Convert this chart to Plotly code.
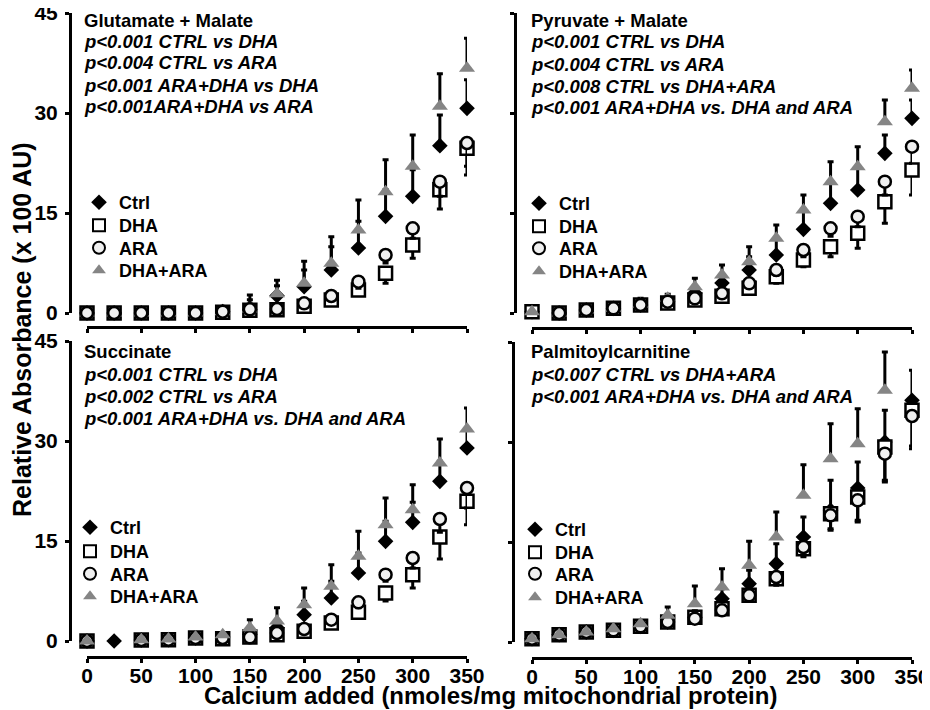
import plotly.graph_objects as go

# The page body adds an 8px margin, so the figure is drawn 8px smaller and
# reference pixel positions are shifted by that offset.
OFF = 8
W, H = 930 - OFF, 710 - OFF

# ---------------- data ----------------
calcium = [0, 25, 50, 75, 100, 125, 150, 175, 200, 225, 250, 275, 300, 325, 350]
x_ticks = [0, 50, 100, 150, 200, 250, 300, 350]
y_ticks = [0, 15, 30, 45]
groups = ["Ctrl", "DHA", "ARA", "DHA+ARA"]

# Glutamate + Malate
gm_ctrl = [0, 0, 0, 0, 0, 0.2, 0.5, 2.6, 3.95, 6.45, 9.75, 14.5, 17.5, 25.1, 30.7]
gm_ctrl_err = [0, 0, 0, 0, 0, 0.3, 1.5, 1.5, 2.5, 3.5, 4, 4, 4, 4.6, 4.3]
gm_dha = [0, 0, 0, 0, 0, 0.1, 0.4, 0.5, 1.0, 1.95, 3.45, 5.95, 10.2, 18.5, 24.7]
gm_dha_err = [0, 0, 0, 0, 0, 0, 0.3, 0.3, 0.5, 0.6, 0.8, 1.5, 2, 2.9, 4]
gm_ara = [0, 0, 0, 0, 0, 0.2, 0.55, 0.6, 1.45, 2.55, 4.7, 8.7, 12.7, 19.7, 25.5]
gm_ara_err = [0, 0, 0, 0, 0, 0, 0.3, 0.3, 0.5, 0.6, 1, 1.2, 1.5, 2.2, 3.5]
gm_mix = [0, 0, 0, 0, 0, 0.2, 0.6, 2.9, 4.45, 7.45, 12.45, 18.2, 22, 31, 36.7]
gm_mix_err = [0, 0, 0, 0, 0, 0.3, 2.1, 2, 3.3, 4, 4.5, 4.8, 4.7, 4.9, 4.5]

# Pyruvate + Malate
pm_ctrl = [0.2, 0, 0.45, 0.7, 1.2, 1.7, 3.0, 4.5, 6.45, 8.7, 12.55, 16.45, 18.45, 23.95, 29.2]
pm_ctrl_err = [0, 0, 0, 0, 0, 0.3, 0.5, 1, 2, 2.5, 3, 3, 3.5, 2.75, 2.75]
pm_dha = [0.2, 0, 0.45, 0.7, 1.2, 1.5, 1.95, 2.5, 3.7, 5.45, 7.95, 9.95, 11.95, 16.7, 21.45]
pm_dha_err = [0, 0, 0, 0, 0, 0.2, 0.3, 0.5, 0.8, 1, 1, 1.5, 2.25, 3.25, 3.75]
pm_ara = [None, 0, 0.45, 0.7, 1.2, 1.7, 2.2, 2.95, 4.45, 6.45, 9.45, 12.7, 14.45, 19.7, 24.95]
pm_ara_err = [0, 0, 0, 0, 0, 0.2, 0.3, 0.4, 0.5, 0.8, 1, 1.2, 1.5, 2, 2.5]
pm_mix = [0.2, 0, 0.45, 0.7, 1.3, 2.2, 3.95, 5.7, 7.7, 11.2, 15.45, 19.7, 21.95, 28.7, 33.7]
pm_mix_err = [0, 0, 0, 0, 0.9, 0.6, 1.25, 1.5, 2.25, 2, 2.25, 3, 3, 3.25, 2.75]

# Succinate
su_ctrl = [0, 0, 0.15, 0.2, 0.45, 0.6, 1.0, 2.0, 3.95, 6.45, 10.2, 14.95, 17.8, 23.95, 28.95]
su_ctrl_err = [0, 0, 0, 0, 0, 0.3, 0.5, 1, 2, 2.5, 3, 3, 3, 3, 3]
su_dha = [0, None, 0.15, 0.2, 0.45, 0.35, 0.6, 0.95, 1.45, 2.7, 4.3, 7.2, 9.95, 15.6, 20.95]
su_dha_err = [0, 0, 0, 0, 0, 0, 0.2, 0.3, 0.5, 0.5, 0.8, 1.2, 2, 3.3, 3.5]
su_ara = [0, None, 0.15, 0.2, 0.45, 0.45, 0.55, 1.2, 1.8, 3.2, 5.8, 9.95, 12.45, 18.3, 22.95]
su_ara_err = [0, 0, 0, 0, 0, 0, 0.2, 0.3, 0.4, 0.5, 0.8, 1, 1.5, 2, 3]
su_mix = [0, None, 0.2, 0.3, 0.6, 0.95, 2.0, 3.0, 5.45, 8.2, 12.7, 17.45, 19.7, 26.7, 31.8]
su_mix_err = [0, 0, 0, 0, 0, 0.3, 1.2, 2, 2.5, 3.25, 3.75, 4, 3.75, 3.6, 3.15]

# Palmitoylcarnitine
pc_ctrl = [0.5, 1.1, 1.5, 1.75, 2.35, 3.0, 3.7, 6.5, 8.75, 11.75, 15.75, 19.75, 23.1, 30.0, 36.25]
pc_ctrl_err = [0, 0, 0, 0, 0.2, 0.5, 1, 1.5, 2, 3, 3, 4.5, 3.9, 4.75, 4.5]
pc_dha = [0.5, 1.1, 1.5, 1.75, 2.35, 3.0, 3.7, 5.0, 7.0, 9.5, 14.0, 19.25, 21.75, 29.25, 34.75]
pc_dha_err = [0, 0, 0, 0, 0, 0.3, 0.5, 0.5, 0.8, 1, 1.2, 2.5, 3.75, 5.25, 5.75]
pc_ara = [0.5, 1.1, 1.5, 1.75, 2.35, 3.0, 3.5, 4.75, 7.0, 9.75, 14.25, 19.0, 21.25, 28.25, 33.9]
pc_ara_err = [0, 0, 0, 0, 0, 0.2, 0.4, 0.5, 0.8, 1, 1.2, 2, 3, 4, 4.5]
pc_mix = [0.5, 1.1, 1.5, 2.0, 2.75, 4.0, 5.75, 8.25, 11.5, 15.75, 22.0, 27.5, 29.75, 37.75, None]
pc_mix_err = [0, 0, 0, 0, 0.3, 1.25, 2.65, 2.75, 3.6, 3.75, 4.6, 5.25, 5.25, 5.75, 0]

panel_titles = ["Glutamate + Malate", "Pyruvate + Malate", "Succinate", "Palmitoylcarnitine"]
panel_stats = [
    ["p<0.001 CTRL vs DHA", "p<0.004 CTRL vs ARA", "p<0.001 ARA+DHA vs DHA", "p<0.001ARA+DHA vs ARA"],
    ["p<0.001 CTRL vs DHA", "p<0.004 CTRL vs ARA", "p<0.008 CTRL vs DHA+ARA",
     "p<0.001 ARA+DHA vs. DHA and ARA"],
    ["p<0.001 CTRL vs DHA", "p<0.002 CTRL vs ARA", "p<0.001 ARA+DHA vs. DHA and ARA"],
    ["p<0.007 CTRL vs DHA+ARA", "p<0.001 ARA+DHA vs. DHA and ARA"],
]
x_title = "Calcium added (nmoles/mg mitochondrial protein)"
y_title = "Relative Absorbance (x 100 AU)"

panel_data = [
    {"Ctrl": (gm_ctrl, gm_ctrl_err), "DHA": (gm_dha, gm_dha_err), "ARA": (gm_ara, gm_ara_err), "DHA+ARA": (gm_mix, gm_mix_err)},
    {"Ctrl": (pm_ctrl, pm_ctrl_err), "DHA": (pm_dha, pm_dha_err), "ARA": (pm_ara, pm_ara_err), "DHA+ARA": (pm_mix, pm_mix_err)},
    {"Ctrl": (su_ctrl, su_ctrl_err), "DHA": (su_dha, su_dha_err), "ARA": (su_ara, su_ara_err), "DHA+ARA": (su_mix, su_mix_err)},
    {"Ctrl": (pc_ctrl, pc_ctrl_err), "DHA": (pc_dha, pc_dha_err), "ARA": (pc_ara, pc_ara_err), "DHA+ARA": (pc_mix, pc_mix_err)},
]

# ---------------- layout helpers ----------------
FONT = "Liberation Sans, Arial, sans-serif"


def fx(px):
    return (px - OFF) / W


def fy(py):
    return 1 - (py - OFF) / H


styles = {
    "Ctrl": dict(symbol="diamond", size=12, color="black", line=dict(color="black", width=0), up=True),
    "DHA": dict(symbol="square", size=13, color="white", line=dict(color="black", width=2.5), up=False),
    "ARA": dict(symbol="circle", size=12, color="#f0f0f0", line=dict(color="black", width=2.5), up=False),
    "DHA+ARA": dict(symbol="triangle-up", size=14, color="#858585", line=dict(color="#858585", width=0), up=True),
}

# drawing order per panel (which series lies on top)
orders = [
    ["Ctrl", "DHA", "DHA+ARA", "ARA"],
    ["Ctrl", "DHA", "DHA+ARA", "ARA"],
    ["Ctrl", "DHA", "ARA", "DHA+ARA"],
    ["Ctrl", "DHA", "ARA", "DHA+ARA"],
]

# pixel geometry of each panel (reference pixels)
geo = [
    dict(x0=87, x1=467, y0=313, y1=13, xline=327, yline=70, labels_x=False, labels_y=True,
         text_x=82, text_y=[20.7, 41, 63, 85, 107], leg_x=79, leg_rows=[202, 225, 247.5, 270]),
    dict(x0=532, x1=912, y0=313, y1=13, xline=328, yline=515, labels_x=False, labels_y=False,
         text_x=529, text_y=[20.7, 42, 64, 86, 107.5], leg_x=519, leg_rows=[203, 226, 248, 271]),
    dict(x0=87, x1=467, y0=641, y1=341, xline=657, yline=70, labels_x=True, labels_y=True,
         text_x=82, text_y=[351.7, 374, 396.7, 418.3], leg_x=70, leg_rows=[527, 551, 573.5, 596]),
    dict(x0=532, x1=912, y0=642, y1=342, xline=658, yline=513, labels_x=True, labels_y=False,
         text_x=529, text_y=[351.7, 374.3, 396.7], leg_x=515, leg_rows=[529, 552, 573.5, 597]),
]

fig = go.Figure()
layout = dict(
    width=W, height=H, margin=dict(l=0, r=0, t=0, b=0, autoexpand=False),
    paper_bgcolor="white", plot_bgcolor="rgba(0,0,0,0)",
    font=dict(family=FONT, color="black"),
    showlegend=True,
    annotations=[],
)

leg_count = 0
for i, g in enumerate(geo):
    sfx = "" if i == 0 else str(i + 1)
    xa, ya = "x" + sfx, "y" + sfx
    layout["xaxis" + sfx] = dict(
        domain=[fx(g["x0"]), fx(g["x1"])], range=[0, 350], anchor="free", position=fy(g["xline"]),
        tickmode="array", tickvals=x_ticks, ticktext=[str(v) for v in x_ticks],
        showticklabels=g["labels_x"], showgrid=False, zeroline=False,
        showline=True, linecolor="black", linewidth=3,
        ticks="outside", ticklen=4, tickwidth=2.5, tickcolor="black",
        tickfont=dict(family=FONT, size=21, color="black", weight="bold"),
        ticklabelstandoff=-5, ticklabeloverflow="allow", automargin=False,
    )
    layout["yaxis" + sfx] = dict(
        domain=[fy(g["y0"]), fy(g["y1"])], range=[0, 45], anchor="free", position=fx(g["yline"]),
        tickmode="array", tickvals=y_ticks, ticktext=[str(v) for v in y_ticks],
        showticklabels=g["labels_y"], showgrid=False, zeroline=False,
        showline=True, linecolor="black", linewidth=3,
        ticks="outside", ticklen=4, tickwidth=2.5, tickcolor="black",
        tickfont=dict(family=FONT, size=21, color="black", weight="bold"),
        ticklabelstandoff=3, ticklabeloverflow="allow", automargin=False,
    )
    for name in orders[i]:
        vals, err = panel_data[i][name]
        st = styles[name]
        zeros = [0] * len(err)
        row = groups.index(name)
        leg_count += 1
        lg = "legend" if leg_count == 1 else "legend" + str(leg_count)
        layout[lg] = dict(
            x=fx(g["leg_x"]), y=fy(g["leg_rows"][row] - 18), xanchor="left", yanchor="top",
            bgcolor="rgba(0,0,0,0)", borderwidth=0, itemsizing="constant",
            font=dict(family=FONT, size=18, color="black", weight="bold"),
            itemclick=False, itemdoubleclick=False,
        )
        fig.add_trace(go.Scatter(
            x=calcium, y=vals, mode="markers", name=name,
            xaxis=xa, yaxis=ya, legend=lg, showlegend=True,
            cliponaxis=False,
            marker=dict(symbol=st["symbol"], size=st["size"], color=st["color"], line=st["line"]),
            error_y=dict(type="data", symmetric=False,
                         array=err if st["up"] else zeros,
                         arrayminus=zeros if st["up"] else err,
                         color="black", thickness=3, width=3),
        ))
    # panel text
    layout["annotations"].append(dict(
        text=panel_titles[i], xref="paper", yref="paper", x=fx(g["text_x"]), y=fy(g["text_y"][0]),
        xanchor="left", yanchor="middle", showarrow=False,
        font=dict(family=FONT, size=18.5, color="black", weight="bold"),
    ))
    for k, line in enumerate(panel_stats[i]):
        layout["annotations"].append(dict(
            text="<i>" + line + "</i>", xref="paper", yref="paper",
            x=fx(g["text_x"]), y=fy(g["text_y"][k + 1]),
            xanchor="left", yanchor="middle", showarrow=False,
            font=dict(family=FONT, size=18.5, color="black", weight="bold"),
        ))

layout["annotations"].append(dict(
    text=x_title, xref="paper", yref="paper", x=fx(490), y=fy(695.5),
    xanchor="center", yanchor="middle", showarrow=False,
    font=dict(family=FONT, size=24, color="black", weight="bold"),
))
layout["annotations"].append(dict(
    text=y_title, xref="paper", yref="paper", x=fx(22), y=fy(330), textangle=-90,
    xanchor="center", yanchor="middle", showarrow=False,
    font=dict(family=FONT, size=25, color="black", weight="bold"),
))

fig.update_layout(**layout)
fig.write_html("out.html")
